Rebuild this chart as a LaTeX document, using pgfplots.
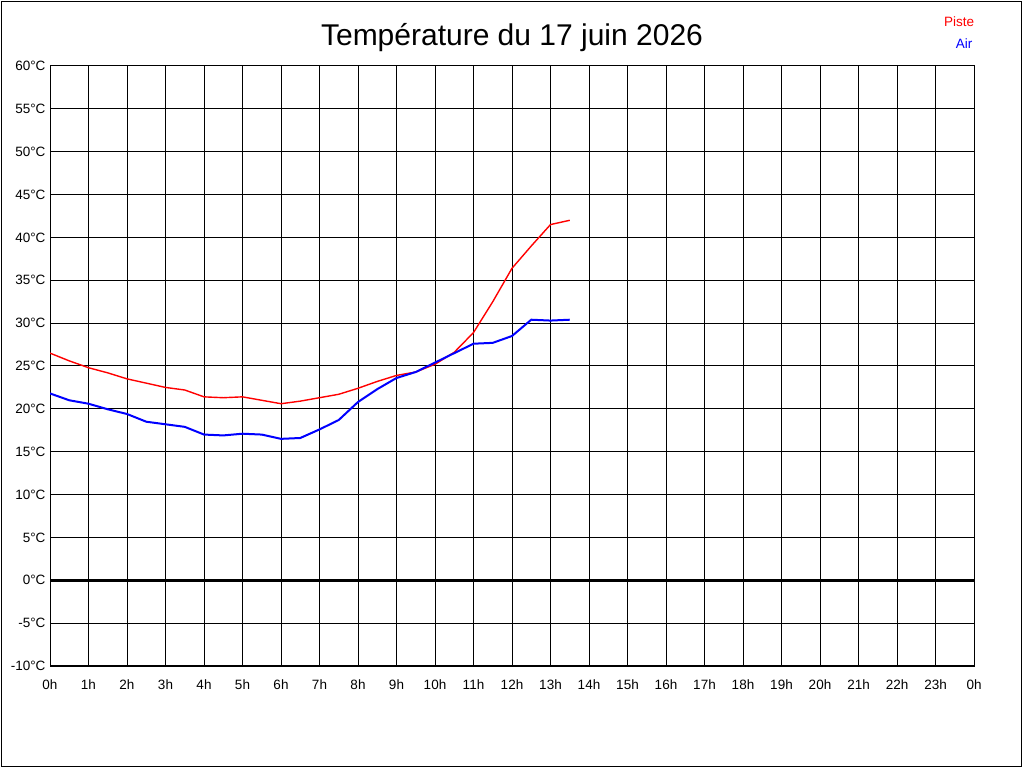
\documentclass[border=0pt]{standalone}
\usepackage{pgfplots}
\pgfplotsset{compat=1.18}
\usepackage{fontspec}
\setmainfont{Liberation Sans}
\begin{document}
\begin{tikzpicture}
\useasboundingbox (0pt,0pt) rectangle (1024pt,768pt);
\fill[white] (0pt,0pt) rectangle (1024pt,768pt);
\draw[black, line width=1pt] (1.5pt,1.5pt) rectangle (1021.5pt,766.5pt);
\node[font=\fontsize{30}{32}\selectfont] at (512pt,730pt) {Température du 17 juin 2026};
\node[font=\fontsize{13.5}{15}\selectfont, text=red] at (959pt,746pt) {Piste};
\node[font=\fontsize{13.5}{15}\selectfont, text=blue] at (964pt,724pt) {Air};
\begin{axis}[
  at={(50pt,187.714pt)}, anchor=origin, 
  width=924pt, height=600pt, scale only axis,
  xmin=0, xmax=24, ymin=-10, ymax=60,
  xtick={0,1,...,24},
  xticklabels={0h,1h,2h,3h,4h,5h,6h,7h,8h,9h,10h,11h,12h,13h,14h,15h,16h,17h,18h,19h,20h,21h,22h,23h,0h},
  ytick={-10,-5,...,60},
  yticklabels={-10°C,-5°C,0°C,5°C,10°C,15°C,20°C,25°C,30°C,35°C,40°C,45°C,50°C,55°C,60°C},
  major tick length=0pt,
  tick label style={font=\fontsize{13.5}{15}\selectfont},
  xticklabel style={yshift=-10pt},
  yticklabel style={xshift=-1pt},
  grid=major,
  grid style={black, line width=1pt},
  axis line style={black, line width=1pt},
  clip=true,
]
\addplot[black, line width=3pt] coordinates {(0,0) (24,0)};
\addplot[red, line width=1.4pt] coordinates {
(0,26.5) (0.5,25.6) (1,24.8) (1.5,24.2) (2,23.5) (2.5,23.0) (3,22.5) (3.5,22.2)
(4,21.4) (4.5,21.3) (5,21.4) (5.5,21.0) (6,20.6) (6.5,20.9) (7,21.3) (7.5,21.7)
(8,22.4) (8.5,23.2) (9,23.9) (9.5,24.3) (10,25.2) (10.5,26.6) (11,28.9) (11.5,32.5)
(12,36.4) (12.5,39.0) (13,41.5) (13.5,42.0)};
\addplot[blue, line width=2pt] coordinates {
(0,21.8) (0.5,21.0) (1,20.6) (1.5,19.95) (2,19.4) (2.5,18.5) (3,18.2) (3.5,17.9)
(4,17.0) (4.5,16.9) (5,17.1) (5.5,17.0) (6,16.5) (6.5,16.6) (7,17.6) (7.5,18.7)
(8,20.8) (8.5,22.3) (9,23.6) (9.5,24.3) (10,25.4) (10.5,26.5) (11,27.6) (11.5,27.7)
(12,28.5) (12.5,30.4) (13,30.3) (13.5,30.4)};
\end{axis}
\end{tikzpicture}
\end{document}
